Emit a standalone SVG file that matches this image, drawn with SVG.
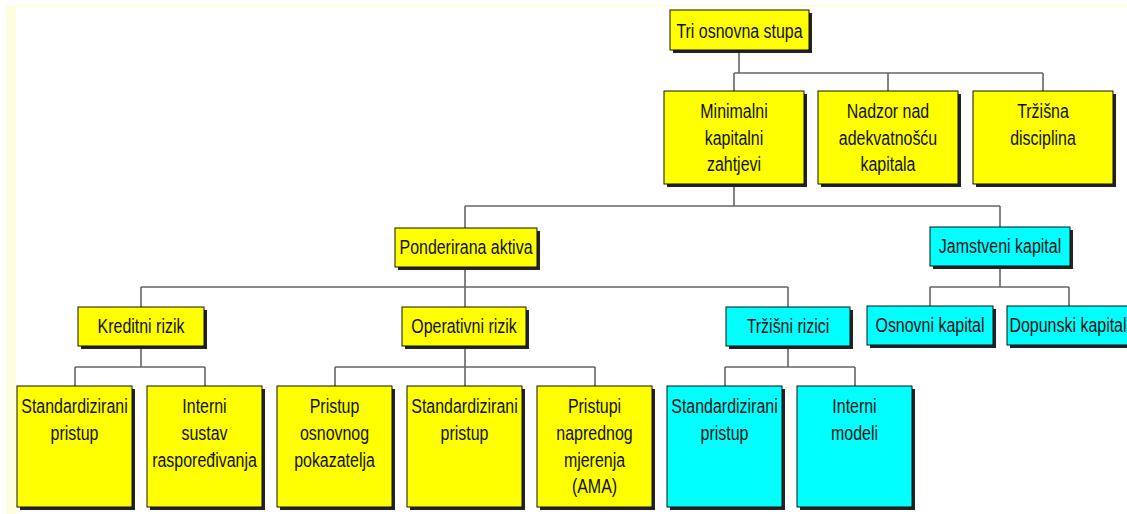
<svg xmlns="http://www.w3.org/2000/svg" width="1127" height="514" viewBox="0 0 1127 514">
<style>
.sh{fill:#222}
.y{fill:#ffff00;stroke:#111;stroke-width:1}
.c{fill:#00ffff;stroke:#111;stroke-width:1}
.t{font-family:"Liberation Sans",Arial,sans-serif;font-size:21px;fill:#111;text-anchor:middle}
.ln{fill:none;stroke:#666;stroke-width:1.6}
</style>
<rect x="0" y="0" width="1127" height="514" fill="#ffffff"/>
<rect x="6" y="5" width="10" height="509" fill="#fdfde0"/>
<rect x="6" y="5" width="1121" height="2" fill="#fdfde0"/>
<g id="connectors">
<path class="ln" d="M739 50V73M734 73H1043M734 73V91M888 73V91M1043 73V91"/>
<path class="ln" d="M734 184V206M465 206H1000M465 206V228M1000 206V227"/>
<path class="ln" d="M465 267V287M141 287H788M141 287V307M465 287V307M788 287V307"/>
<path class="ln" d="M1000 266V287M930 287H1069M930 287V307M1069 287V306"/>
<path class="ln" d="M141 346V367M75 367H205M75 367V386M205 367V386"/>
<path class="ln" d="M465 346V367M335 367H595M335 367V386M465 367V386M595 367V386"/>
<path class="ln" d="M788 346V367M725 367H855M725 367V386M855 367V386"/>
</g>
<g id="n-root"><rect class="sh" x="673" y="13" width="139" height="40"/><rect class="y" x="670" y="10" width="139" height="40"/>
<text class="t" transform="translate(739.5 38) scale(0.76 1)">Tri osnovna stupa</text></g>
<g id="n-minimalni"><rect class="sh" x="667" y="94" width="140" height="93"/><rect class="y" x="664" y="91" width="140" height="93"/>
<text class="t" transform="translate(734 118) scale(0.76 1)"><tspan x="0" y="0">Minimalni</tspan><tspan x="0" y="27">kapitalni</tspan><tspan x="0" y="53">zahtjevi</tspan></text></g>
<g id="n-nadzor"><rect class="sh" x="821" y="94" width="140" height="93"/><rect class="y" x="818" y="91" width="140" height="93"/>
<text class="t" transform="translate(888 118) scale(0.76 1)"><tspan x="0" y="0">Nadzor nad</tspan><tspan x="0" y="27">adekvatnošću</tspan><tspan x="0" y="53">kapitala</tspan></text></g>
<g id="n-trzisna"><rect class="sh" x="976" y="94" width="140" height="93"/><rect class="y" x="973" y="91" width="140" height="93"/>
<text class="t" transform="translate(1043 118) scale(0.76 1)"><tspan x="0" y="0">Tržišna</tspan><tspan x="0" y="27">disciplina</tspan></text></g>
<g id="n-ponderirana"><rect class="sh" x="398" y="231" width="142" height="39"/><rect class="y" x="395" y="228" width="142" height="39"/>
<text class="t" transform="translate(466 254) scale(0.76 1)">Ponderirana aktiva</text></g>
<g id="n-jamstveni"><rect class="sh" x="933" y="230" width="140" height="39"/><rect class="c" x="930" y="227" width="140" height="39"/>
<text class="t" transform="translate(1000 253) scale(0.76 1)">Jamstveni kapital</text></g>
<g id="n-kreditni"><rect class="sh" x="81" y="310" width="126" height="39"/><rect class="y" x="78" y="307" width="126" height="39"/>
<text class="t" transform="translate(141 333) scale(0.76 1)">Kreditni rizik</text></g>
<g id="n-operativni"><rect class="sh" x="405" y="310" width="124" height="39"/><rect class="y" x="402" y="307" width="124" height="39"/>
<text class="t" transform="translate(464 333) scale(0.76 1)">Operativni rizik</text></g>
<g id="n-trzisni"><rect class="sh" x="729" y="310" width="124" height="39"/><rect class="c" x="726" y="307" width="124" height="39"/>
<text class="t" transform="translate(788 333) scale(0.76 1)">Tržišni rizici</text></g>
<g id="n-osnovni"><rect class="sh" x="870" y="309" width="126" height="39"/><rect class="c" x="867" y="306" width="126" height="39"/>
<text class="t" transform="translate(930 332) scale(0.76 1)">Osnovni kapital</text></g>
<g id="n-dopunski"><rect class="sh" x="1010" y="309" width="126" height="39"/><rect class="c" x="1007" y="306" width="126" height="39"/>
<text class="t" transform="translate(1068 332) scale(0.76 1)">Dopunski kapital</text></g>
<g id="n-std1"><rect class="sh" x="20" y="389" width="115" height="121"/><rect class="y" x="17" y="386" width="115" height="121"/>
<text class="t" transform="translate(74.5 413) scale(0.76 1)"><tspan x="0" y="0">Standardizirani</tspan><tspan x="0" y="27">pristup</tspan></text></g>
<g id="n-interni-sustav"><rect class="sh" x="150" y="389" width="115" height="121"/><rect class="y" x="147" y="386" width="115" height="121"/>
<text class="t" transform="translate(204.5 413) scale(0.76 1)"><tspan x="0" y="0">Interni</tspan><tspan x="0" y="27">sustav</tspan><tspan x="0" y="54">raspoređivanja</tspan></text></g>
<g id="n-pristup-osnovnog"><rect class="sh" x="280" y="389" width="115" height="121"/><rect class="y" x="277" y="386" width="115" height="121"/>
<text class="t" transform="translate(334.5 413) scale(0.76 1)"><tspan x="0" y="0">Pristup</tspan><tspan x="0" y="27">osnovnog</tspan><tspan x="0" y="54">pokazatelja</tspan></text></g>
<g id="n-std2"><rect class="sh" x="410" y="389" width="115" height="121"/><rect class="y" x="407" y="386" width="115" height="121"/>
<text class="t" transform="translate(464.5 413) scale(0.76 1)"><tspan x="0" y="0">Standardizirani</tspan><tspan x="0" y="27">pristup</tspan></text></g>
<g id="n-pristupi-naprednog"><rect class="sh" x="540" y="389" width="115" height="121"/><rect class="y" x="537" y="386" width="115" height="121"/>
<text class="t" transform="translate(594.5 413) scale(0.76 1)"><tspan x="0" y="0">Pristupi</tspan><tspan x="0" y="27">naprednog</tspan><tspan x="0" y="54">mjerenja</tspan><tspan x="0" y="80">(AMA)</tspan></text></g>
<g id="n-std3"><rect class="sh" x="670" y="389" width="115" height="121"/><rect class="c" x="667" y="386" width="115" height="121"/>
<text class="t" transform="translate(724.5 413) scale(0.76 1)"><tspan x="0" y="0">Standardizirani</tspan><tspan x="0" y="27">pristup</tspan></text></g>
<g id="n-interni-modeli"><rect class="sh" x="800" y="389" width="115" height="121"/><rect class="c" x="797" y="386" width="115" height="121"/>
<text class="t" transform="translate(854.5 413) scale(0.76 1)"><tspan x="0" y="0">Interni</tspan><tspan x="0" y="27">modeli</tspan></text></g>
</svg>
